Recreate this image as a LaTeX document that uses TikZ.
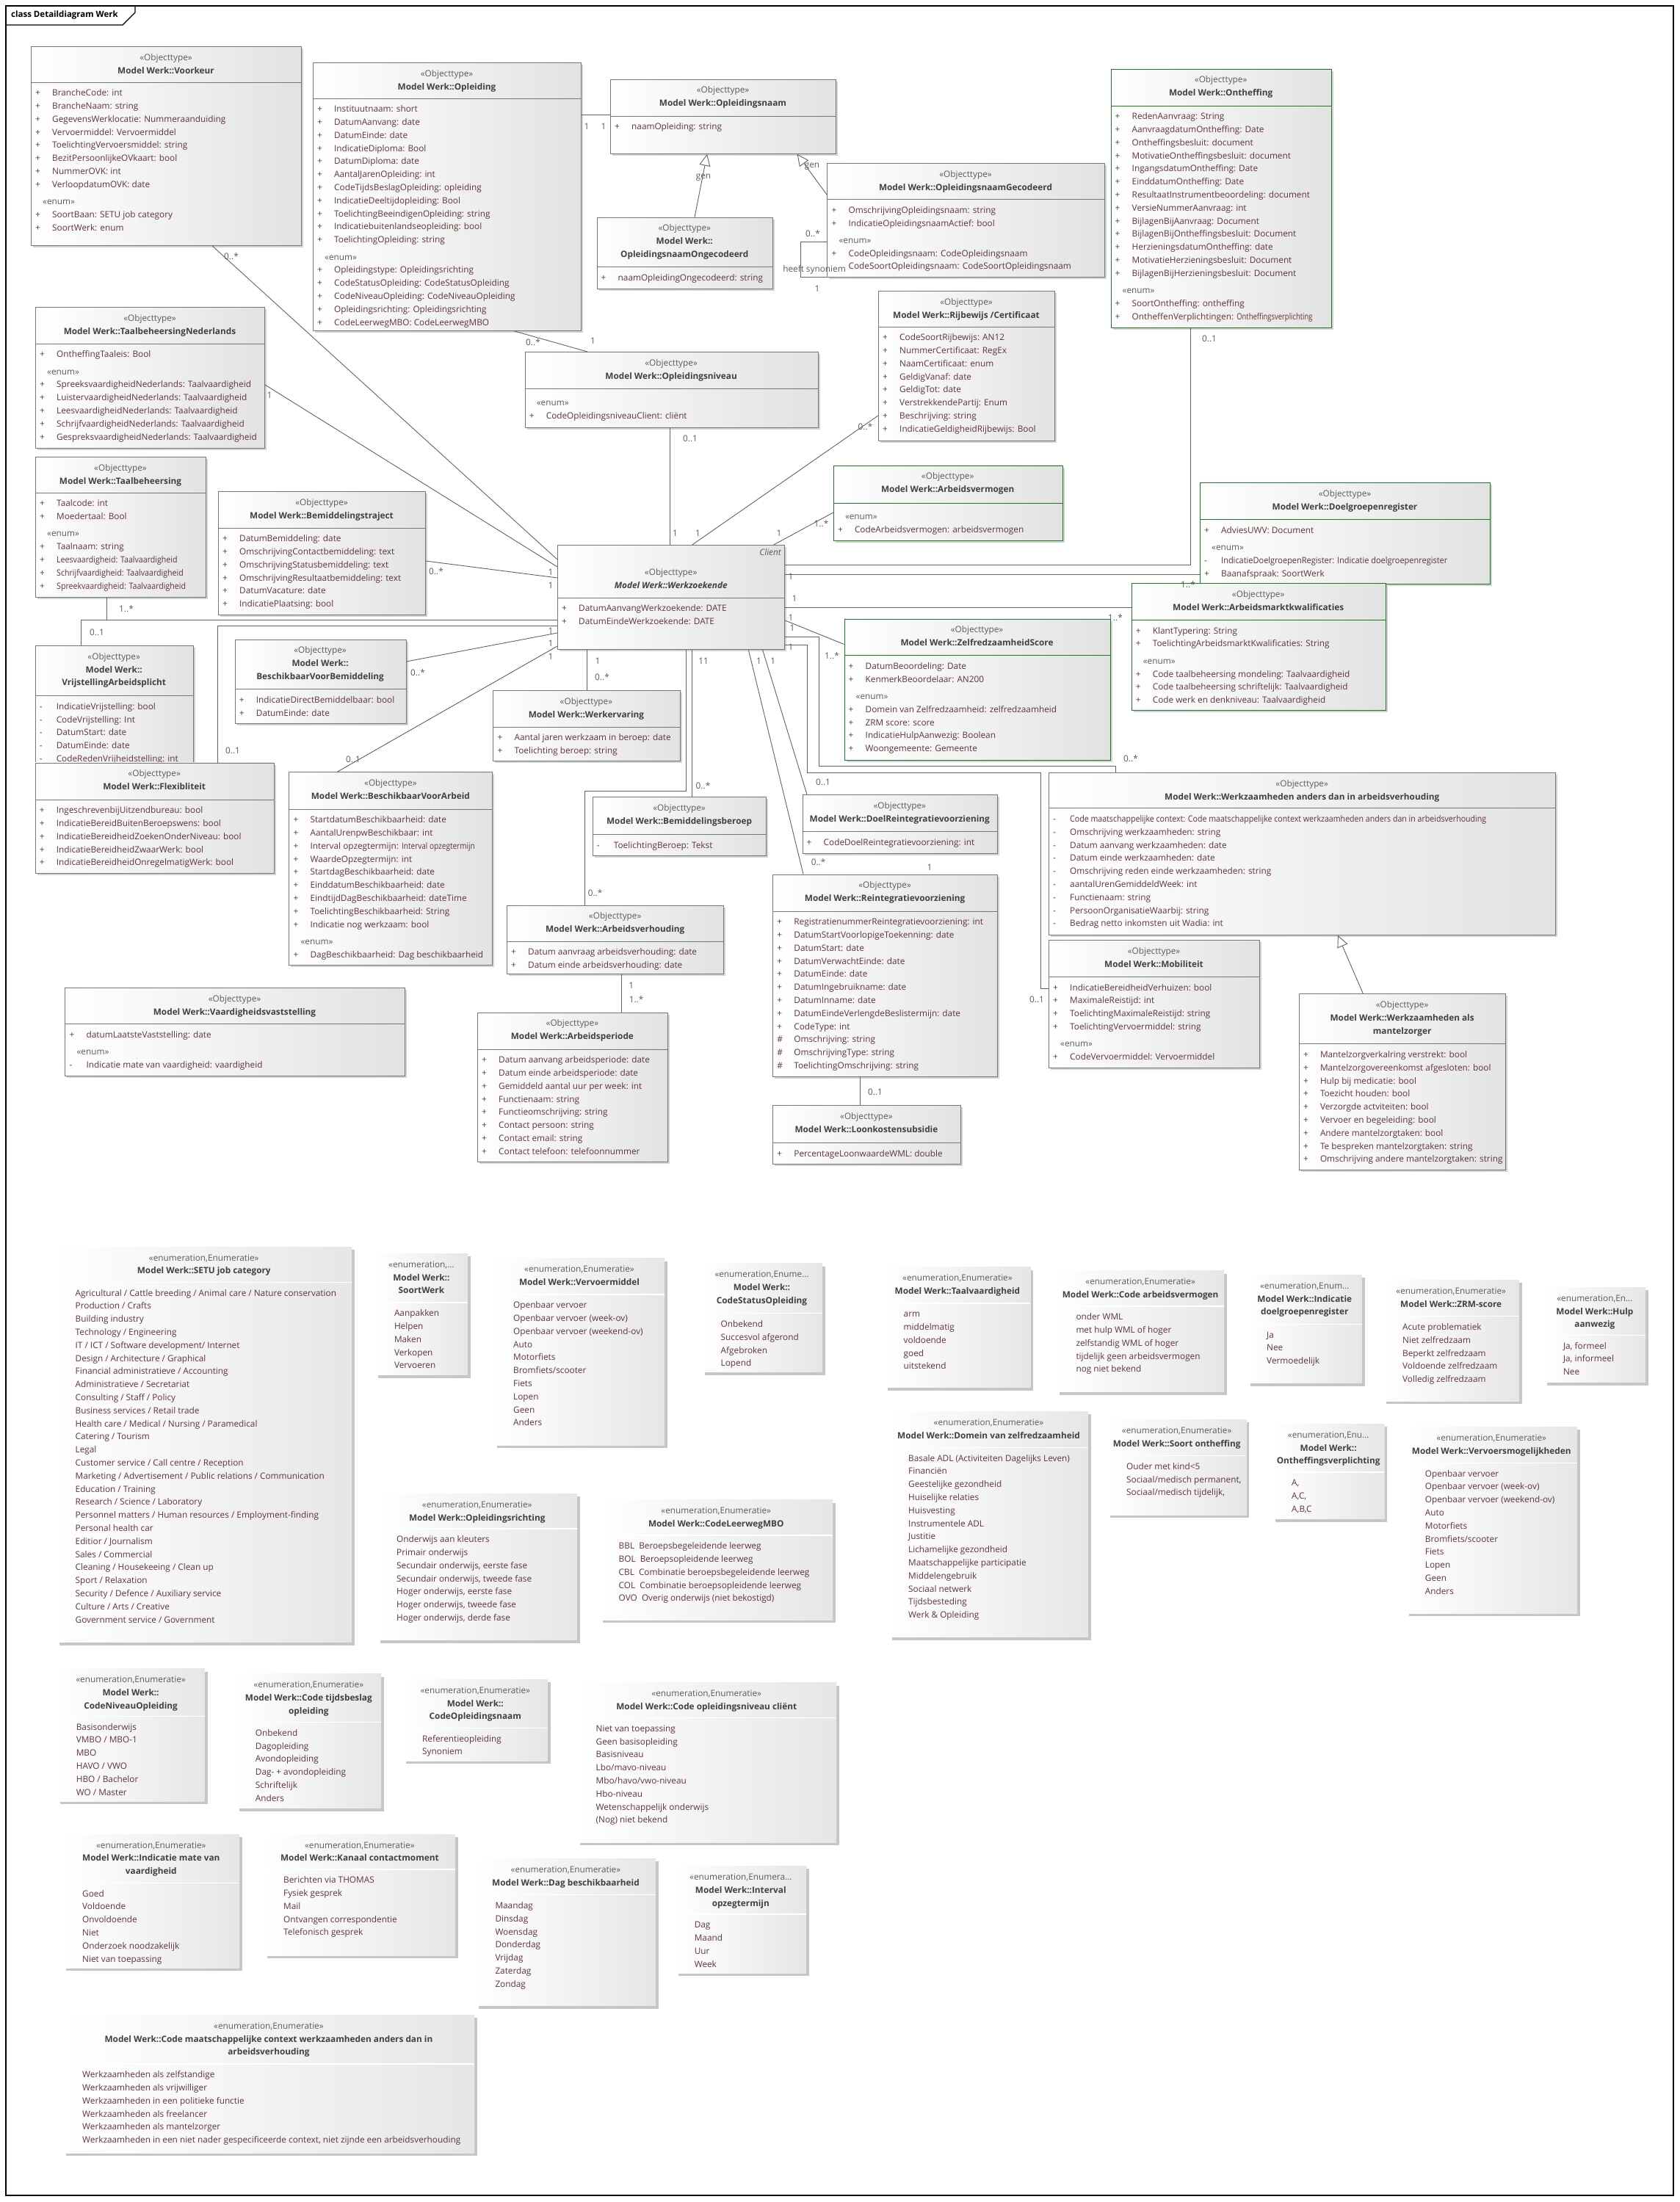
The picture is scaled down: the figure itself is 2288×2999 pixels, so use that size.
\documentclass[tikz,border=0pt]{standalone}
\usepackage{fontspec}
\usepackage{graphicx}
\setmainfont{Open Sans}
\usetikzlibrary{arrows.meta}

\definecolor{boxline}{RGB}{118,118,118}
\definecolor{boxright}{RGB}{226,226,226}
\definecolor{enumright}{RGB}{230,230,230}
\definecolor{boxshadow}{RGB}{210,210,210}
\definecolor{enumshadow}{RGB}{198,198,198}
\definecolor{umlgreen}{RGB}{28,122,36}
\definecolor{conline}{RGB}{96,96,116}
\definecolor{attrcol}{RGB}{96,52,52}
\definecolor{headcol}{RGB}{64,64,64}
\definecolor{stereocol}{RGB}{90,90,90}

% attribuutregels
\newcommand{\vis}[1]{\makebox[23pt][l]{#1}}
\newcommand{\pub}{\vis{+}}
\newcommand{\pri}{\vis{-}}
\newcommand{\pro}{\vis{\#}}
\newcommand{\enumword}{\hspace*{10pt}{\color{stereocol}«enum»}}
\newcommand{\enumtag}{\\[5.5pt]\enumword\\}
\newcommand{\objhead}[1]{{\color{stereocol}«Objecttype»}\\\bfseries\color{headcol}#1}
\newcommand{\enumhead}[2]{{\color{stereocol}#1}\\\bfseries\color{headcol}#2}
\newcommand{\enumst}{«enumeration,Enumeratie»}

% klasse: [rand]{naam}{x}{y}{b}{h}{kop}{koptekst}{attributen}
\newcommand{\umlclass}[9][draw=boxline]{%
  \fill[boxshadow] (#3+3,#4+3) rectangle ++(#5,#6);
  \node[classbox,#1,minimum width=#5pt,minimum height=#6pt] (#2) at (#3,#4) {};
  \draw[#1,line width=0.8pt] (#3,#4+#7) -- ++(#5,0);
  \node[headtext] (#2-head) at (#3+#5/2,#4+10) {\rule{0pt}{9pt}#8};
  \node[bodytext] (#2-body) at (#3+6,#4+#7+9.5) {\rule{0pt}{9pt}#9};
}
% enumeratie: {naam}{x}{y}{b}{h}{kop}{koptekst}{waarden}
\newcommand{\umlenum}[8]{%
  \fill[enumshadow] (#2+4,#3+4) rectangle ++(#4,#5);
  \node[enumbox,minimum width=#4pt,minimum height=#5pt] (#1) at (#2,#3) {};
  \draw[white,line width=1.2pt] (#2,#3+#6) -- ++(#4,0);
  \node[headtext] (#1-head) at (#2+#4/2,#3+10) {\rule{0pt}{9pt}#7};
  \node[bodytext] (#1-body) at (#2+26,#3+#6+9.5) {\rule{0pt}{9pt}#8};
}

\begin{document}
\begin{tikzpicture}[x=1pt,y=-1pt,
  classbox/.style={anchor=north west,inner sep=0pt,left color=white,right color=boxright,line width=0.8pt},
  enumbox/.style={anchor=north west,inner sep=0pt,left color=white,right color=enumright},
  headtext/.style={anchor=north,align=center,inner sep=0pt,font=\fontsize{11.8}{17.8}\selectfont,text=headcol},
  bodytext/.style={anchor=north west,align=left,inner sep=0pt,font=\fontsize{11.8}{17.8}\selectfont,text=attrcol},
  conn/.style={draw=conline,line width=0.9pt},
  gen/.style={conn,-{Triangle[length=16pt,width=15pt,fill=white]}},
  mult/.style={inner sep=0pt,font=\fontsize{11.8}{13}\selectfont,text=stereocol}]

	% kader
	\fill[white] (0,0) rectangle (2288,2999);
	\draw[line width=1.1pt] (8,8) rectangle (2279,2990);
	\draw[line width=1.1pt] (8,34) -- (167,34) -- (184,17) -- (184,8);
	\node[anchor=west,inner sep=0pt,font=\fontsize{11.5}{13}\selectfont\bfseries] (frametitle) at (15,21) {class Detaildiagram Werk};

	% klassen
	\umlclass{voorkeur}{42}{63}{368}{271}{49}{\objhead{Model Werk::Voorkeur}}{%
	\pub BrancheCode: int\\
	\pub BrancheNaam: string\\
	\pub GegevensWerklocatie: Nummeraanduiding\\
	\pub Vervoermiddel: Vervoermiddel\\
	\pub ToelichtingVervoersmiddel: string\\
	\pub BezitPersoonlijkeOVkaart: bool\\
	\pub NummerOVK: int\\
	\pub VerloopdatumOVK: date\enumtag
	\pub SoortBaan: SETU job category\\
	\pub SoortWerk: enum}

	\umlclass{opleiding}{426}{85}{365}{365}{49}{\objhead{Model Werk::Opleiding}}{%
	\pub Instituutnaam: short\\
	\pub DatumAanvang: date\\
	\pub DatumEinde: date\\
	\pub IndicatieDiploma: Bool\\
	\pub DatumDiploma: date\\
	\pub AantalJarenOpleiding: int\\
	\pub CodeTijdsBeslagOpleiding: opleiding\\
	\pub IndicatieDeeltijdopleiding: Bool\\
	\pub ToelichtingBeeindigenOpleiding: string\\
	\pub Indicatiebuitenlandseopleiding: bool\\
	\pub ToelichtingOpleiding: string\enumtag
	\pub Opleidingstype: Opleidingsrichting\\
	\pub CodeStatusOpleiding: CodeStatusOpleiding\\
	\pub CodeNiveauOpleiding: CodeNiveauOpleiding\\
	\pub Opleidingsrichting: Opleidingsrichting\\
	\pub CodeLeerwegMBO: CodeLeerwegMBO}

	\umlclass{opleidingsnaam}{831}{107.6}{307}{101.4}{50.4}{\objhead{Model Werk::Opleidingsnaam}}{%
	\pub naamOpleiding: string}

	\umlclass{ongecod}{812.5}{295.7}{239.5}{97}{67.8}{\objhead{Model Werk::\\\textbf{OpleidingsnaamOngecodeerd}}}{%
	\pub naamOpleidingOngecodeerd: string}

	\umlclass{gecod}{1126.4}{222}{377.2}{155}{49.5}{\objhead{Model Werk::OpleidingsnaamGecodeerd}}{%
	\pub OmschrijvingOpleidingsnaam: string\\
	\pub IndicatieOpleidingsnaamActief: bool\enumtag
	\pub CodeOpleidingsnaam: CodeOpleidingsnaam\\
	\vis{}CodeSoortOpleidingsnaam: CodeSoortOpleidingsnaam}

	\umlclass[draw=umlgreen]{ontheffing}{1512.5}{93.5}{300.3}{352.5}{50.5}{\objhead{Model Werk::Ontheffing}}{%
	\pub RedenAanvraag: String\\
	\pub AanvraagdatumOntheffing: Date\\
	\pub Ontheffingsbesluit: document\\
	\pub MotivatieOntheffingsbesluit: document\\
	\pub IngangsdatumOntheffing: Date\\
	\pub EinddatumOntheffing: Date\\
	\pub ResultaatInstrumentbeoordeling: document\\
	\pub VersieNummerAanvraag: int\\
	\pub BijlagenBijAanvraag: Document\\
	\pub BijlagenBijOntheffingsbesluit: Document\\
	\pub HerzieningsdatumOntheffing: date\\
	\pub MotivatieHerzieningsbesluit: Document\\
	\pub BijlagenBijHerzieningsbesluit: Document\enumtag
	\pub SoortOntheffing: ontheffing\\
	\pub OntheffenVerplichtingen: \scalebox{0.8}[1]{Ontheffingsverplichting}}

	\umlclass{taalnl}{48}{418}{312}{192}{50}{\objhead{Model Werk::TaalbeheersingNederlands}}{%
	\pub OntheffingTaaleis: Bool\enumtag
	\pub SpreeksvaardigheidNederlands: Taalvaardigheid\\
	\pub LuistervaardigheidNederlands: Taalvaardigheid\\
	\pub LeesvaardigheidNederlands: Taalvaardigheid\\
	\pub SchrijfvaardigheidNederlands: Taalvaardigheid\\
	\pub GespreksvaardigheidNederlands: Taalvaardigheid}

	\umlclass{taalb}{48}{622}{232}{191}{49}{\objhead{Model Werk::Taalbeheersing}}{%
	\pub Taalcode: int\\
	\pub Moedertaal: Bool\enumtag
	\pub Taalnaam: string\\
	\pub \scalebox{0.9}[1]{Leesvaardigheid: Taalvaardigheid}\\
	\pub \scalebox{0.9}[1]{Schrijfvaardigheid: Taalvaardigheid}\\
	\pub \scalebox{0.9}[1]{Spreekvaardigheid: Taalvaardigheid}}

	\umlclass{bemtraj}{297}{669}{282}{167.5}{50}{\objhead{Model Werk::Bemiddelingstraject}}{%
	\pub DatumBemiddeling: date\\
	\pub OmschrijvingContactbemiddeling: text\\
	\pub OmschrijvingStatusbemiddeling: text\\
	\pub OmschrijvingResultaatbemiddeling: text\\
	\pub DatumVacature: date\\
	\pub IndicatiePlaatsing: bool}

	\umlclass{opleidingsniveau}{714.6}{479}{399}{102.7}{50}{\objhead{Model Werk::Opleidingsniveau}}{%
	\rule{0pt}{14pt}\enumword\\
	\pub CodeOpleidingsniveauClient: cliënt}

	\umlclass{rijbewijs}{1196}{396}{240}{203.6}{49}{\objhead{Model Werk::Rijbewijs /Certificaat}}{%
	\pub CodeSoortRijbewijs: AN12\\
	\pub NummerCertificaat: RegEx\\
	\pub NaamCertificaat: enum\\
	\pub GeldigVanaf: date\\
	\pub GeldigTot: date\\
	\pub VerstrekkendePartij: Enum\\
	\pub Beschrijving: string\\
	\pub IndicatieGeldigheidRijbewijs: Bool}

	\umlclass[draw=umlgreen]{arbeidsvermogen}{1134.8}{633.5}{311.8}{102.8}{51.5}{\objhead{Model Werk::Arbeidsvermogen}}{%
	\rule{0pt}{12.5pt}\enumword\\
	\pub CodeArbeidsvermogen: arbeidsvermogen}

	\umlclass[draw=umlgreen]{doelgroep}{1634}{657}{395}{138}{50.7}{\objhead{Model Werk::Doelgroepenregister}}{%
	\pub AdviesUWV: Document\enumtag
	\pri \scalebox{0.93}[1]{IndicatieDoelgroepenRegister: Indicatie doelgroepenregister}\\
	\pub Baanafspraak: SoortWerk}

	\umlclass[draw=umlgreen]{arbmarkt}{1540.6}{794}{346.2}{172.7}{50.4}{\objhead{Model Werk::Arbeidsmarktkwalificaties}}{%
	\pub KlantTypering: String\\
	\pub ToelichtingArbeidsmarktKwalificaties: String\enumtag
	\pub Code taalbeheersing mondeling: Taalvaardigheid\\
	\pub Code taalbeheersing schriftelijk: Taalvaardigheid\\
	\pub Code werk en denkniveau: Taalvaardigheid}

	\umlclass{werkzoekende}{759}{742}{309.4}{142}{72}{\rule{0pt}{31pt}\objhead{\itshape Model Werk::Werkzoekende}}{%
	\pub DatumAanvangWerkzoekende: DATE\\
	\pub DatumEindeWerkzoekende: DATE}
	\node[anchor=east,inner sep=0pt,font=\fontsize{11.8}{13}\selectfont\itshape,text=stereocol] (client) at (1064,752) {Client};

	\umlclass[draw=umlgreen]{zrs}{1149.5}{842.7}{362}{192}{50}{\objhead{Model Werk::ZelfredzaamheidScore}}{%
	\pub DatumBeoordeling: Date\\
	\pub KenmerkBeoordelaar: AN200\enumtag
	\pub Domein van Zelfredzaamheid: zelfredzaamheid\\
	\pub ZRM score: score\\
	\pub IndicatieHulpAanwezig: Boolean\\
	\pub Woongemeente: Gemeente}

	\umlclass{vrijst}{47.6}{879}{215.2}{170}{68.6}{\objhead{Model Werk::\\\textbf{VrijstellingArbeidsplicht}}}{%
	\pri IndicatieVrijstelling: bool\\
	\pri CodeVrijstelling: Int\\
	\pri DatumStart: date\\
	\pri DatumEinde: date\\
	\pri CodeRedenVrijheidstelling: int}

	\umlclass{flex}{47.6}{1038.5}{325.2}{150.5}{50.5}{\objhead{Model Werk::Flexibliteit}}{%
	\pub IngeschrevenbijUitzendbureau: bool\\
	\pub IndicatieBereidBuitenBeroepswens: bool\\
	\pub IndicatieBereidheidZoekenOnderNiveau: bool\\
	\pub IndicatieBereidheidZwaarWerk: bool\\
	\pub IndicatieBereidheidOnregelmatigWerk: bool}

	\umlclass{bvb}{319.7}{870.7}{232.8}{114.3}{68}{\objhead{Model Werk::\\\textbf{BeschikbaarVoorBemiddeling}}}{%
	\pub IndicatieDirectBemiddelbaar: bool\\
	\pub DatumEinde: date}

	\umlclass{bva}{393.4}{1051.4}{277}{262.6}{50.6}{\objhead{Model Werk::BeschikbaarVoorArbeid}}{%
	\pub StartdatumBeschikbaarheid: date\\
	\pub AantalUrenpwBeschikbaar: int\\
	\pub Interval opzegtermijn: \scalebox{0.85}[1]{Interval opzegtermijn}\\
	\pub WaardeOpzegtermijn: int\\
	\pub StartdagBeschikbaarheid: date\\
	\pub EinddatumBeschikbaarheid: date\\
	\pub EindtijdDagBeschikbaarheid: dateTime\\
	\pub ToelichtingBeschikbaarheid: String\\
	\pub Indicatie nog werkzaam: bool\enumtag
	\pub DagBeschikbaarheid: Dag beschikbaarheid}

	\umlclass{werkervaring}{671.4}{940.3}{254.1}{95.4}{49.7}{\objhead{Model Werk::Werkervaring}}{%
	\pub Aantal jaren werkzaam in beroep: date\\
	\pub Toelichting beroep: string}

	\umlclass{bemberoep}{806.7}{1085}{236.7}{79.8}{51.7}{\objhead{Model Werk::Bemiddelingsberoep}}{%
	\pri ToelichtingBeroep: Tekst}

	\umlclass{arbeidsverhouding}{690}{1232.7}{295.4}{93.1}{49.3}{\objhead{Model Werk::Arbeidsverhouding}}{%
	\pub Datum aanvraag arbeidsverhouding: date\\
	\pub Datum einde arbeidsverhouding: date}

	\umlclass{arbeidsperiode}{650}{1378.6}{258.8}{203.1}{50.4}{\objhead{Model Werk::Arbeidsperiode}}{%
	\pub Datum aanvang arbeidsperiode: date\\
	\pub Datum einde arbeidsperiode: date\\
	\pub Gemiddeld aantal uur per week: int\\
	\pub Functienaam: string\\
	\pub Functieomschrijving: string\\
	\pub Contact persoon: string\\
	\pub Contact email: string\\
	\pub Contact telefoon: telefoonnummer}

	\umlclass{doel}{1092.5}{1082}{265.5}{80}{50.8}{\objhead{Model Werk::DoelReintegratievoorziening}}{%
	\pub CodeDoelReintegratievoorziening: int}

	\umlclass{reintegratie}{1052.2}{1190.6}{305.8}{275.4}{50.4}{\objhead{Model Werk::Reintegratievoorziening}}{%
	\pub RegistratienummerReintegratievoorziening: int\\
	\pub DatumStartVoorlopigeToekenning: date\\
	\pub DatumStart: date\\
	\pub DatumVerwachtEinde: date\\
	\pub DatumEinde: date\\
	\pub DatumIngebruikname: date\\
	\pub DatumInname: date\\
	\pub DatumEindeVerlengdeBeslistermijn: date\\
	\pub CodeType: int\\
	\pro Omschrijving: string\\
	\pro OmschrijvingType: string\\
	\pro ToelichtingOmschrijving: string}

	\umlclass{loonkosten}{1052.2}{1505.4}{255.4}{79.6}{51.1}{\objhead{Model Werk::Loonkostensubsidie}}{%
	\pub PercentageLoonwaardeWML: double}

	\umlclass{werkzaamheden}{1428}{1052}{690.4}{221}{48.8}{\objhead{Model Werk::Werkzaamheden anders dan in arbeidsverhouding}}{%
	\pri \scalebox{0.9}[1]{Code maatschappelijke context: Code maatschappelijke context werkzaamheden anders dan in arbeidsverhouding}\\
	\pri Omschrijving werkzaamheden: string\\
	\pri Datum aanvang werkzaamheden: date\\
	\pri Datum einde werkzaamheden: date\\
	\pri Omschrijving reden einde werkzaamheden: string\\
	\pri aantalUrenGemiddeldWeek: int\\
	\pri Functienaam: string\\
	\pri PersoonOrganisatieWaarbij: string\\
	\pri Bedrag netto inkomsten uit Wadia: int}

	\umlclass{mobiliteit}{1428}{1280.4}{287}{173.4}{49.9}{\objhead{Model Werk::Mobiliteit}}{%
	\pub IndicatieBereidheidVerhuizen: bool\\
	\pub MaximaleReistijd: int\\
	\pub ToelichtingMaximaleReistijd: string\\
	\pub ToelichtingVervoermiddel: string\enumtag
	\pub CodeVervoermiddel: Vervoermiddel}

	\umlclass{mantelzorger}{1768.8}{1353.3}{281.6}{239.7}{68.5}{\objhead{Model Werk::Werkzaamheden als\\\textbf{mantelzorger}}}{%
	\pub Mantelzorgverkalring verstrekt: bool\\
	\pub Mantelzorgovereenkomst afgesloten: bool\\
	\pub Hulp bij medicatie: bool\\
	\pub Toezicht houden: bool\\
	\pub Verzorgde actviteiten: bool\\
	\pub Vervoer en begeleiding: bool\\
	\pub Andere mantelzorgtaken: bool\\
	\pub Te bespreken mantelzorgtaken: string\\
	\pub Omschrijving andere mantelzorgtaken: string}

	\umlclass{vaardigheid}{88.4}{1345}{462.2}{120}{49.3}{\objhead{Model Werk::Vaardigheidsvaststelling}}{%
	\pub datumLaatsteVaststelling: date\enumtag
	\pri Indicatie mate van vaardigheid: vaardigheid}

	% associaties
	\draw[conn] (voorkeur.south -| 289,0) -- (werkzoekende.west |- 0,762)
	  node[mult] (m-vk) at (315,349) {0..*};
	\draw[conn] (taalnl.east |- 0,524) -- (werkzoekende.west |- 0,772)
	  node[mult] (m-tn) at (367,538) {1};
	\draw[conn] (bemtraj.east |- 0,764) -- (werkzoekende.west |- 0,787)
	  node[mult] (m-bt) at (594,778) {0..*};
	\draw[conn] (taalb.south -| 145.4,0) |- (werkzoekende.west |- 0,844.4)
	  node[mult] (m-tb) at (172,829) {1..*};
	\draw[conn] (vrijst.north -| 110.5,0) |- (werkzoekende.west |- 0,844.4)
	  node[mult] (m-vr) at (132,861) {0..1};
	\draw[conn] (flex.north -| 296,0) |- (werkzoekende.west |- 0,852)
	  node[mult] (m-fl) at (317,1022) {0..1};
	\draw[conn] (bvb.east |- 0,901) -- (werkzoekende.west |- 0,862)
	  node[mult] (m-bb) at (569,916) {0..*};
	\draw[conn] (bva.north -| 459,0) -- (werkzoekende.west |- 0,880)
	  node[mult] (m-ba) at (481,1034) {0..1};
	\node[mult] (m-w1) at (750,779) {1};
	\node[mult] (m-w2) at (750,797) {1};
	\node[mult] (m-w3) at (750,859) {1};
	\node[mult] (m-w4) at (750,876) {1};
	\node[mult] (m-w5) at (750,894) {1};

	\draw[conn] (opleiding.east |- 0,156) -- (opleidingsnaam.west |- 0,156)
	  node[mult] (m-on1) at (799,172) {1} node[mult] (m-on2) at (822,172) {1};
	\draw[gen] (ongecod.north -| 946,0) -- (opleidingsnaam.south -| 963,0)
	  node[mult] (g-1) at (958,242) {gen};
	\draw[gen] (gecod.west |- 0,265.6) -- (opleidingsnaam.south -| 1085.6,0)
	  node[mult] (g-2) at (1106,227) {gen};
	\draw[conn] (gecod.west |- 0,329.6) -| ([xshift=-36pt]gecod.south west) -- (gecod.south west)
	  node[mult] (m-sy1) at (1107,318.5) {0..*}
	  node[mult] (m-sy2) at (1109,367.4) {heeft synoniem}
	  node[mult] (m-sy3) at (1113,393.6) {1};
	\draw[conn] (opleiding.south -| 700,0) -- (opleidingsniveau.north -| 800,0)
	  node[mult] (m-ol1) at (726,466) {0..*} node[mult] (m-ol2) at (807.6,464) {1};
	\draw[conn] (opleidingsniveau.south -| 912.7,0) -- (werkzoekende.north -| 912.7,0)
	  node[mult] (m-nv1) at (940,597) {0..1} node[mult] (m-nv2) at (919.6,726) {1};
	\draw[conn] (rijbewijs.west |- 0,566) -- (werkzoekende.north -| 942.7,0)
	  node[mult] (m-rb1) at (1178.5,580.7) {0..*} node[mult] (m-rb2) at (950.6,726) {1};
	\draw[conn] (arbeidsvermogen.west |- 0,698) -- (werkzoekende.north -| 1053.7,0)
	  node[mult] (m-av1) at (1118.5,712.6) {1..*} node[mult] (m-av2) at (1061,726) {1};

	\draw[conn] (ontheffing.south -| 1621.4,0) |- (werkzoekende.east |- 0,769.7)
	  node[mult] (m-oh) at (1647,461.5) {0..1};
	\draw[conn] (doelgroep.west |- 0,782) -- (werkzoekende.east |- 0,782)
	  node[mult] (m-dg1) at (1618,796) {1..*} node[mult] (m-dg2) at (1077,785) {1};
	\draw[conn] (arbmarkt.west |- 0,827) -- (werkzoekende.east |- 0,827)
	  node[mult] (m-am1) at (1519,841) {1..*} node[mult] (m-am2) at (1082,815) {1};
	\draw[conn] (zrs.west |- 0,877.5) -- (werkzoekende.east |- 0,845)
	  node[mult] (m-zr1) at (1133,892.6) {1..*} node[mult] (m-zr2) at (1077,841) {1}
	  node[mult] (m-zr3) at (1079,855) {1};
	\draw[conn] (werkzoekende.east |- 0,867) -| (1115.6,1043) -| (werkzaamheden.north -| 1519,0)
	  node[mult] (m-wz1) at (1540,1033) {0..*} node[mult] (m-wz2) at (1077,881) {1};
	\draw[conn] (werkzoekende.east |- 0,878.6) -| (1099,1052.6) -| (1417,1346) -- (mobiliteit.west |- 0,1346)
	  node[mult] (m-mb) at (1412,1361) {0..1};

	\draw[conn] (werkzoekende.south -| 799.3,0) -- (werkervaring.north -| 799.3,0)
	  node[mult] (m-we1) at (814,900.5) {1} node[mult] (m-we2) at (820,922.4) {0..*};
	\draw[conn] (werkzoekende.south -| 942.7,0) -- (bemberoep.north -| 942.7,0)
	  node[mult] (m-bm1) at (958,900.5) {11} node[mult] (m-bm2) at (957.5,1070) {0..*};
	\draw[conn] (werkzoekende.south -| 934.4,0) |- (796.8,1077.8) -- (arbeidsverhouding.north -| 796.8,0)
	  node[mult] (m-ah) at (810.6,1216) {0..*};
	\draw[conn] (werkzoekende.south -| 1019.3,0) -- (reintegratie.north -| 1094,0)
	  node[mult] (m-ri1) at (1033.6,900.5) {1} node[mult] (m-ri2) at (1114.6,1173.8) {0..*};
	\draw[conn] (werkzoekende.south -| 1038.5,0) -- (doel.north -| 1099,0)
	  node[mult] (m-dr1) at (1052.7,900.5) {1} node[mult] (m-dr2) at (1121,1065.5) {0..1};
	\node[mult] (m-dr3) at (1266,1181.6) {1};
	\draw[conn] (reintegratie.south -| 1171.6,0) -- (loonkosten.north -| 1171.6,0)
	  node[mult] (m-lk) at (1192,1487) {0..1};
	\draw[conn] (arbeidsverhouding.south -| 846,0) -- (arbeidsperiode.north -| 846,0)
	  node[mult] (m-ap1) at (859.7,1342.7) {1} node[mult] (m-ap2) at (866.6,1361) {1..*};
	\draw[gen] (mantelzorger.north -| 1856.4,0) -- (werkzaamheden.south -| 1822,0);

	% enumeraties
	\umlenum{setu}{76.5}{1697.8}{402.5}{538.9}{48.6}{\enumhead{\enumst}{Model Werk::SETU job category}}{%
	Agricultural / Cattle breeding / Animal care / Nature conservation\\
	Production / Crafts\\
	Building industry\\
	Technology / Engineering\\
	IT / ICT / Software development/ Internet\\
	Design / Architecture / Graphical\\
	Financial administratieve / Accounting\\
	Administratieve / Secretariat\\
	Consulting / Staff / Policy\\
	Business services / Retail trade\\
	Health care / Medical / Nursing / Paramedical\\
	Catering / Tourism\\
	Legal\\
	Customer service / Call centre / Reception\\
	Marketing / Advertisement / Public relations / Communication\\
	Education / Training\\
	Research / Science / Laboratory\\
	Personnel matters / Human resources / Employment-finding\\
	Personal health car\\
	Editior / Journalism\\
	Sales / Commercial\\
	Cleaning / Housekeeing / Clean up\\
	Sport / Relaxation\\
	Security / Defence / Auxiliary service\\
	Culture / Arts / Creative\\
	Government service / Government}

	\umlenum{soortwerk}{510.8}{1707}{126.2}{165.6}{67}{\enumhead{«enumeration,…}{Model Werk::\\\textbf{SoortWerk}}}{%
	Aanpakken\\ Helpen\\ Maken\\ Verkopen\\ Vervoeren}

	\umlenum{vervoermiddel}{673}{1713.6}{232}{254.4}{49.4}{\enumhead{\enumst}{Model Werk::Vervoermiddel}}{%
	Openbaar vervoer\\ Openbaar vervoer (week-ov)\\ Openbaar vervoer (weekend-ov)\\ Auto\\ Motorfiets\\
	Bromfiets/scooter\\ Fiets\\ Lopen\\ Geen\\ Anders}

	\umlenum{codestatus}{955.5}{1720.7}{164}{147.9}{68}{\enumhead{«enumeration,Enume…}{Model Werk::\\\textbf{CodeStatusOpleiding}}}{%
	Onbekend\\ Succesvol afgerond\\ Afgebroken\\ Lopend}

	\umlenum{taalvaardigheid}{1204.5}{1725.5}{198.9}{164.1}{49.5}{\enumhead{\enumst}{Model Werk::Taalvaardigheid}}{%
	arm\\ middelmatig\\ voldoende\\ goed\\ uitstekend}

	\umlenum{codearbeidsverm}{1439.3}{1730.6}{227.7}{164.9}{48.3}{\enumhead{\enumst}{Model Werk::Code arbeidsvermogen}}{%
	onder WML\\ met hulp WML of hoger\\ zelfstandig WML of hoger\\ tijdelijk geen arbeidsvermogen\\ nog niet bekend}

	\umlenum{indicdoel}{1699}{1736}{155.5}{147.6}{67.4}{\enumhead{«enumeration,Enum…}{Model Werk::Indicatie\\\textbf{doelgroepenregister}}}{%
	Ja\\ Nee\\ Vermoedelijk}

	\umlenum{zrmscore}{1883.9}{1743.3}{184.6}{164.7}{49.4}{\enumhead{\enumst}{Model Werk::ZRM-score}}{%
	Acute problematiek\\ Niet zelfredzaam\\ Beperkt zelfredzaam\\ Voldoende zelfredzaam\\ Volledig zelfredzaam}

	\umlenum{hulp}{2102.8}{1753}{138.1}{129.5}{65.4}{\enumhead{«enumeration,En…}{Model Werk::Hulp\\\textbf{aanwezig}}}{%
	Ja, formeel\\ Ja, informeel\\ Nee}

	\umlenum{opleidingsrichting}{514}{2034}{271.5}{199.6}{48}{\enumhead{\enumst}{Model Werk::Opleidingsrichting}}{%
	Onderwijs aan kleuters\\ Primair onderwijs\\ Secundair onderwijs, eerste fase\\ Secundair onderwijs, tweede fase\\
	Hoger onderwijs, eerste fase\\ Hoger onderwijs, tweede fase\\ Hoger onderwijs, derde fase}

	\umlenum{leerweg}{816.5}{2042.6}{317.5}{163.4}{48.4}{\enumhead{\enumst}{Model Werk::CodeLeerwegMBO}}{%
	BBL~~Beroepsbegeleidende leerweg\\ BOL~~Beroepsopleidende leerweg\\ CBL~~Combinatie beroepsbegeleidende leerweg\\
	COL~~Combinatie beroepsopleidende leerweg\\ OVO~~Overig onderwijs (niet bekostigd)}

	\umlenum{domein}{1211}{1922}{271}{307.6}{49.4}{\enumhead{\enumst}{Model Werk::Domein van zelfredzaamheid}}{%
	Basale ADL (Activiteiten Dagelijks Leven)\\ Financiën\\ Geestelijke gezondheid\\ Huiselijke relaties\\ Huisvesting\\
	Instrumentele ADL\\ Justitie\\ Lichamelijke gezondheid\\ Maatschappelijke participatie\\ Middelengebruik\\
	Sociaal netwerk\\ Tijdsbesteding\\ Werk \& Opleiding}

	\umlenum{soortontheffing}{1508}{1933}{189.3}{129.8}{49.5}{\enumhead{\enumst}{Model Werk::Soort ontheffing}}{%
	Ouder met kind<5\\ Sociaal/medisch permanent,\\ Sociaal/medisch tijdelijk,}

	\umlenum{ontheffingsverpl}{1733}{1939}{152.3}{129.7}{66}{\enumhead{«enumeration,Enu…}{Model Werk::\\\textbf{Ontheffingsverplichting}}}{%
	A,\\ A,C,\\ A,B,C}

	\umlenum{vervoersmog}{1914.7}{1943}{233.1}{253.8}{49.4}{\enumhead{\enumst}{Model Werk::Vervoersmogelijkheden}}{%
	Openbaar vervoer\\ Openbaar vervoer (week-ov)\\ Openbaar vervoer (weekend-ov)\\ Auto\\ Motorfiets\\
	Bromfiets/scooter\\ Fiets\\ Lopen\\ Geen\\ Anders}

	\umlenum{codeniveau}{77.6}{2272.5}{200.9}{180.8}{64.8}{\enumhead{\enumst}{Model Werk::\\\textbf{CodeNiveauOpleiding}}}{%
	Basisonderwijs\\ VMBO / MBO-1\\ MBO\\ HAVO / VWO\\ HBO / Bachelor\\ WO / Master}

	\umlenum{tijdsbeslag}{321.7}{2279.5}{197.3}{183}{66}{\enumhead{\enumst}{Model Werk::Code tijdsbeslag\\\textbf{opleiding}}}{%
	Onbekend\\ Dagopleiding\\ Avondopleiding\\ Dag- + avondopleiding\\ Schriftelijk\\ Anders}

	\umlenum{codeopleidingsnaam}{549}{2287}{196.6}{110.8}{66.4}{\enumhead{\enumst}{Model Werk::\\\textbf{CodeOpleidingsnaam}}}{%
	Referentieopleiding\\ Synoniem}

	\umlenum{niveauclient}{785.5}{2291.5}{353.5}{217.8}{48.1}{\enumhead{\enumst}{Model Werk::Code opleidingsniveau cliënt}}{%
	Niet van toepassing\\ Geen basisopleiding\\ Basisniveau\\ Lbo/mavo-niveau\\ Mbo/havo/vwo-niveau\\ Hbo-niveau\\
	Wetenschappelijk onderwijs\\ (Nog) niet bekend}

	\umlenum{matevaardigheid}{86}{2497.8}{239.6}{182.5}{66.5}{\enumhead{\enumst}{Model Werk::Indicatie mate van\\\textbf{vaardigheid}}}{%
	Goed\\ Voldoende\\ Onvoldoende\\ Niet\\ Onderzoek noodzakelijk\\ Niet van toepassing}

	\umlenum{kanaal}{360}{2497.8}{259.8}{165.5}{48.2}{\enumhead{\enumst}{Model Werk::Kanaal contactmoment}}{%
	Berichten via THOMAS\\ Fysiek gesprek\\ Mail\\ Ontvangen correspondentie\\ Telefonisch gesprek}

	\umlenum{dagbeschikbaar}{648.3}{2531.3}{244.3}{200.3}{49.5}{\enumhead{\enumst}{Model Werk::Dag beschikbaarheid}}{%
	Maandag\\ Dinsdag\\ Woensdag\\ Donderdag\\ Vrijdag\\ Zaterdag\\ Zondag}

	\umlenum{interval}{919.6}{2541.3}{178.4}{145.9}{65.7}{\enumhead{«enumeration,Enumera…}{Model Werk::Interval\\\textbf{opzegtermijn}}}{%
	Dag\\ Maand\\ Uur\\ Week}

	\umlenum{maatschappelijk}{86}{2744}{559.9}{188}{67}{\enumhead{\enumst}{Model Werk::Code maatschappelijke context werkzaamheden anders dan in\\\textbf{arbeidsverhouding}}}{%
	Werkzaamheden als zelfstandige\\ Werkzaamheden als vrijwilliger\\ Werkzaamheden in een politieke functie\\
	Werkzaamheden als freelancer\\ Werkzaamheden als mantelzorger\\
	Werkzaamheden in een niet nader gespecificeerde context, niet zijnde een arbeidsverhouding}
\end{tikzpicture}
\end{document}
